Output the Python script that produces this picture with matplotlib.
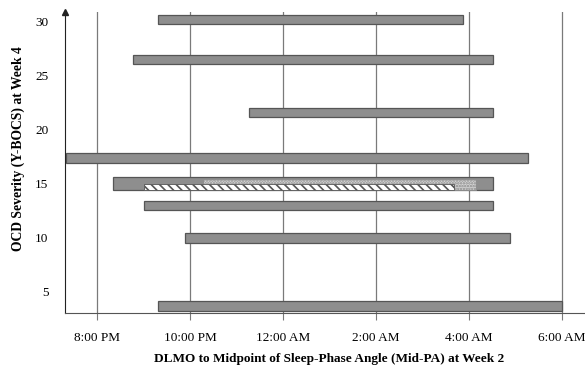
import matplotlib
matplotlib.use("Agg")
import matplotlib.pyplot as plt

plt.rcParams["font.family"] = ["Liberation Serif", "DejaVu Serif"]

# hours after 8:00 PM
tick_hours = [0, 2, 4, 6, 8, 10]
tick_labels = ["8:00 PM", "10:00 PM", "12:00 AM", "2:00 AM", "4:00 AM", "6:00 AM"]
y_ticks = [5, 10, 15, 20, 25, 30]

# gray bars: Y-BOCS score, DLMO-to-Mid-PA window start / end
severity = [30.2, 26.5, 21.6, 17.4, 15.0, 13.0, 10.0, 3.7]
start = [1.31, 0.77, 3.27, -0.66, 0.34, 1.01, 1.89, 1.31]
end = [7.87, 8.52, 8.52, 9.27, 8.52, 8.52, 8.88, 10.0]
bar_h = [0.89, 0.89, 0.89, 0.89, 1.2, 0.89, 0.89, 0.89]

# overlay bars on the score-15 row
dot_y, dot_h, dot_start, dot_end = 14.94, 0.96, 2.28, 8.15
hat_y, hat_h, hat_start, hat_end = 14.72, 0.53, 1.01, 7.68

fig = plt.figure(figsize=(5.85, 3.67), dpi=100)
ax = fig.add_axes([0.111, 0.147, 0.889, 0.82])
ax.set_xlim(-0.69, 10.49)
ax.set_ylim(3.04, 30.9)

for x in tick_hours:
    ax.axvline(x, color="#7a7a7a", lw=0.9, zorder=0)

widths = [e - s for s, e in zip(start, end)]
ax.barh(severity, widths, left=start, height=bar_h, color="#8e8e8e",
        edgecolor="#555555", linewidth=0.9, zorder=2)

plt.rcParams["hatch.linewidth"] = 1.2
ax.barh(dot_y, dot_end - dot_start, left=dot_start, height=dot_h,
        color="#d4d4d4", edgecolor="#8a8a8a", hatch="......", linewidth=0.6,
        zorder=3)
ax.barh(hat_y, hat_end - hat_start, left=hat_start, height=hat_h,
        color="white", edgecolor="#555555", hatch="\\\\\\\\", linewidth=0.6,
        zorder=4)

ax.set_xticks(tick_hours)
ax.set_xticklabels(tick_labels)
ax.set_yticks(y_ticks)
ax.tick_params(axis="x", direction="out", length=5, color="#7a7a7a",
               labelsize=9.5, pad=9)
ax.tick_params(axis="y", length=0, labelsize=9.5, pad=12)

for s in ("top", "right"):
    ax.spines[s].set_visible(False)
ax.spines["left"].set_color("#222222")
ax.spines["bottom"].set_color("#555555")
ax.plot([-0.69], [30.9], marker="^", markersize=4, color="#222222",
        clip_on=False, zorder=5)

ax.set_xlabel("DLMO to Midpoint of Sleep-Phase Angle (Mid-PA) at Week 2",
              fontsize=9.5, fontweight="bold")
ax.set_ylabel("OCD Severity (Y-BOCS) at Week 4", fontsize=9.8,
              fontweight="bold")
ax.xaxis.set_label_coords(0.508, -0.133)
ax.yaxis.set_label_coords(-0.077, 0.548)

fig.savefig("out.png", dpi=100)
